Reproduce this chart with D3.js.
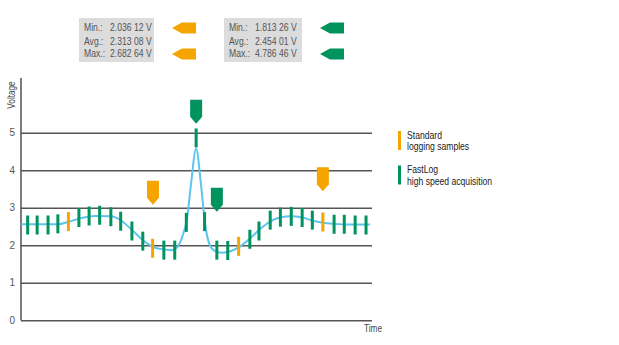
<!DOCTYPE html>
<html><head><meta charset="utf-8">
<script src="https://cdn.jsdelivr.net/npm/d3@7"></script>
<style>
body{margin:0;background:#fff;}
text{font-family:"Liberation Sans Narrow","Liberation Sans",Arial,sans-serif;}
</style></head>
<body><svg id="c" width="619" height="345"></svg>
<script>
// ---- data ----
const yTicks = [0, 1, 2, 3, 4, 5];
const signalT = [0, 10.5, 13.4, 16.5, 21.1, 25.6, 28.5, 31.6, 34.8, 37.6, 40.7, 43.0, 44.7, 46.2, 47.3, 48.4, 49.9, 51.3, 52.4, 53.6, 55.0, 57.0, 59.0, 62.1, 65.2, 68.1, 70.9, 73.8, 76.9, 80.1, 82.9, 86.0, 89.2, 93.7, 99.4];
const signalV = [2.56, 2.56, 2.62, 2.71, 2.78, 2.77, 2.66, 2.41, 2.13, 1.95, 1.89, 1.87, 1.97, 2.3, 2.7, 3.6, 4.57, 3.6, 2.6, 2.05, 1.86, 1.80, 1.82, 1.95, 2.18, 2.43, 2.63, 2.74, 2.77, 2.74, 2.66, 2.60, 2.57, 2.55, 2.55];
const sampleT = [1.9, 4.6, 7.7, 10.5, 13.5, 16.5, 19.4, 22.4, 25.6, 28.4, 31.6, 34.7, 37.5, 40.7, 43.8, 47.1, 49.9, 52.3, 55.8, 58.9, 62.0, 65.2, 67.8, 71.0, 73.9, 77.0, 80.1, 83.0, 86.0, 89.2, 92.1, 95.2, 98.3];
const sampleV = [2.54, 2.54, 2.54, 2.57, 2.63, 2.74, 2.78, 2.80, 2.76, 2.64, 2.38, 2.11, 1.92, 1.87, 1.87, 2.61, 4.86, 2.63, 1.87, 1.86, 1.97, 2.16, 2.38, 2.67, 2.75, 2.77, 2.74, 2.67, 2.62, 2.56, 2.56, 2.54, 2.54];
const standardIdx = [4, 12, 20, 28];
const markerSeries = ["standard", "standard", "fastlog", "fastlog"];
const markerT = [37.6, 86.0, 49.9, 55.8];
const markerTipV = [3.08, 3.44, 5.24, 2.89];
const statLabels = ["Min.:", "Avg.:", "Max.:"];
const statStandard = ["2.036 12 V", "2.313 08 V", "2.682 64 V"];
const statFastLog = ["1.813 26 V", "2.454 01 V", "4.786 46 V"];
const legendLines = [["Standard", "logging samples"], ["FastLog", "high speed acquisition"]];

const ORANGE = "#f5a400", GREEN = "#00935e", BLUE = "#5cc5ef";
const SX = 0.82;
const svg = d3.select("#c");
const x = d3.scaleLinear().domain([0, 100]).range([21, 372]);
const y = d3.scaleLinear().domain([0, 5]).range([320.3, 132.7]);

function ntext(g, tx, ty, str, size, fill, anchor) {
  return g.append("text").attr("transform", `translate(${tx},${ty}) scale(${SX},1)`)
    .attr("font-size", size).attr("fill", fill).attr("text-anchor", anchor || "start").text(str);
}

// grid + y axis
const yAxis = d3.axisLeft(y).tickValues(yTicks).tickSize(-(x(100) - x(0))).tickPadding(6).tickFormat(d3.format("d"));
const ga = svg.append("g").attr("transform", `translate(${x(0)},0)`).call(yAxis);
ga.select(".domain").remove();
ga.selectAll(".tick line").attr("stroke", "#555").attr("stroke-width", 1.4);
ga.selectAll(".tick text").attr("fill", "#555").attr("font-size", 10).attr("font-family", "Liberation Sans Narrow, Liberation Sans, sans-serif");
svg.append("line").attr("x1", x(0)).attr("x2", x(0)).attr("y1", 78).attr("y2", y(0)).attr("stroke", "#444").attr("stroke-width", 1.4);

svg.append("text").attr("transform", `translate(15,95) rotate(-90) scale(${SX},1)`).attr("text-anchor", "middle")
  .attr("font-size", 10).attr("fill", "#444").text("Voltage");
ntext(svg, 382, 332, "Time", 10, "#444", "end");

// signal
const line = d3.line().x((d, i) => x(signalT[i])).y((d, i) => y(signalV[i])).curve(d3.curveMonotoneX);
svg.append("path").attr("d", line(signalV)).attr("fill", "none").attr("stroke", BLUE).attr("stroke-width", 2);

// samples
const tickH = 19;
svg.append("g").selectAll("rect").data(sampleV).join("rect")
  .attr("x", (d, i) => x(sampleT[i]) - 1.5).attr("width", 3)
  .attr("y", d => y(d) - tickH / 2).attr("height", tickH)
  .attr("fill", (d, i) => standardIdx.includes(i) ? ORANGE : GREEN);

// down markers
function downMarker(g, cx, tipY, color) {
  const w = 12, h = 24, tip = 7;
  const p = [[cx - w / 2, tipY - h], [cx + w / 2, tipY - h], [cx + w / 2, tipY - tip], [cx, tipY], [cx - w / 2, tipY - tip]];
  g.append("path").attr("d", "M" + p.join("L") + "Z").attr("fill", color);
}
markerT.forEach((t, i) => downMarker(svg, x(t), y(markerTipV[i]), markerSeries[i] === "standard" ? ORANGE : GREEN));

// stat boxes
function statBox(bx, bw, vals, ax, color) {
  svg.append("rect").attr("x", bx).attr("y", 18).attr("width", bw).attr("height", 44).attr("fill", "#dcdcdc");
  const rowsY = [31, 44.5, 57];
  statLabels.forEach((l, i) => {
    ntext(svg, bx + 5, rowsY[i], l, 10.5, "#555");
    ntext(svg, bx + 31, rowsY[i], vals[i], 10.5, "#555");
  });
  [28, 54].forEach(cy => {
    const w = 24, h = 11, tip = 10;
    const p = [[ax, cy], [ax + tip, cy - h / 2], [ax + w, cy - h / 2], [ax + w, cy + h / 2], [ax + tip, cy + h / 2]];
    svg.append("path").attr("d", "M" + p.join("L") + "Z").attr("fill", color);
  });
}
statBox(79, 75, statStandard, 172, ORANGE);
statBox(224, 78, statFastLog, 320, GREEN);

// legend
legendLines.forEach((ls, i) => {
  const top = 131 + i * 34.5;
  svg.append("rect").attr("x", 398).attr("y", top).attr("width", 3).attr("height", 19).attr("fill", i === 0 ? ORANGE : GREEN);
  ls.forEach((t, j) => ntext(svg, 407, top + 7.5 + j * 11.5, t, 10.5, "#222"));
});
</script></body></html>
